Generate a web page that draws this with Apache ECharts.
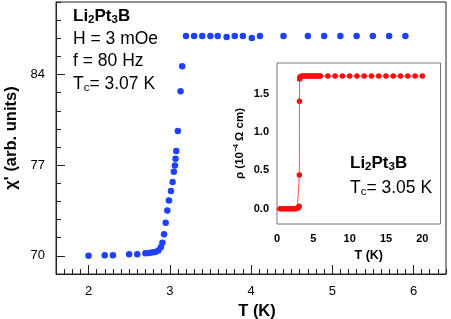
<!DOCTYPE html>
<html>
<head>
<meta charset="utf-8">
<script src="https://cdn.jsdelivr.net/npm/echarts@6/dist/echarts.min.js"></script>
<style>html,body{margin:0;padding:0;background:#fff}#c{width:451px;height:319px}</style>
</head>
<body>
<div id="c"></div>
<script>
// ---- Main panel: ac susceptibility chi' vs T ----
var chiT = [2.00, 2.20, 2.30, 2.50, 2.60, 2.70, 2.74, 2.78, 2.82, 2.86, 2.89, 2.91, 2.93, 2.95, 2.97, 2.99, 3.015, 3.035, 3.05, 3.064, 3.071, 3.08, 3.10, 3.133, 3.153, 3.20, 3.30, 3.40, 3.50, 3.59, 3.70, 3.80, 3.90, 4.01, 4.11, 4.40, 4.70, 4.90, 5.10, 5.30, 5.50, 5.70, 5.90];
var chiV = [70.00, 70.05, 70.05, 70.13, 70.13, 70.20, 70.23, 70.26, 70.30, 70.41, 70.67, 71.02, 71.67, 72.56, 73.50, 74.28, 75.00, 75.70, 76.50, 76.97, 77.50, 78.10, 79.64, 82.70, 84.64, 86.97, 86.97, 86.97, 86.97, 86.97, 86.90, 86.97, 86.97, 86.82, 86.97, 86.97, 86.97, 86.97, 86.97, 86.97, 86.97, 86.97, 86.97];
var mainXTicks = [2, 3, 4, 5, 6];
var mainYTicks = [70, 77, 84];

// ---- Inset: resistivity rho vs T ----
var rhoT = [0.4, 0.6, 0.8, 1.0, 1.2, 1.4, 1.6, 1.8, 2.0, 2.2, 2.4, 2.6, 2.8, 2.9, 3.0, 3.05, 3.08, 3.09, 3.12, 3.15, 3.2, 3.4, 3.6, 3.8, 4.0, 4.2, 4.4, 4.6, 4.8, 5.0, 5.2, 5.4, 5.6, 5.8, 6.0, 7, 8, 9, 10, 11, 12, 13, 14, 15, 16, 17, 18, 19, 20];
var rhoV = [0.00, 0.00, 0.00, 0.00, 0.00, 0.00, 0.00, 0.00, 0.00, 0.00, 0.00, 0.00, 0.01, 0.01, 0.02, 0.03, 0.44, 1.40, 1.69, 1.71, 1.72, 1.73, 1.73, 1.73, 1.73, 1.73, 1.73, 1.73, 1.73, 1.73, 1.73, 1.73, 1.73, 1.73, 1.73, 1.73, 1.73, 1.73, 1.73, 1.73, 1.73, 1.73, 1.73, 1.73, 1.73, 1.73, 1.73, 1.73, 1.73];
var insetXTicks = [0, 5, 10, 15, 20];
var insetYTicks = [0, 0.5, 1.0, 1.5];

function steps(a, b, s) { var r = []; for (var i = 0; a + i * s <= b + 1e-9; i++) r.push(+(a + i * s).toFixed(4)); return r; }
var mainXMinor = steps(1.6, 6.4, 0.1);
var mainYMinor = steps(68.6, 89.6, 1.4);
var insetXMinor = steps(0, 22.5, 2.5);
var insetYMinor = steps(0, 1.9, 0.25);

function zip(a, b) { return a.map(function (v, i) { return [v, b[i]]; }); }

var FONT = 'Liberation Sans, Arial, sans-serif';
var chart = echarts.init(document.getElementById('c'), null, { renderer: 'canvas' });

var subRich = {
  b: { fontFamily: FONT, fontSize: 17, fontWeight: 'bold', fill: '#000', color: '#000', lineHeight: 20 },
  bs: { fontFamily: FONT, fontSize: 11.5, fontWeight: 'bold', fill: '#000', color: '#000', lineHeight: 20, verticalAlign: 'bottom', padding: [7, 0, 0, 0] },
  n: { fontFamily: FONT, fontSize: 17.5, fill: '#000', color: '#000', lineHeight: 20 },
  ns: { fontFamily: FONT, fontSize: 11.5, fill: '#000', color: '#000', lineHeight: 20, verticalAlign: 'bottom', padding: [7, 0, 0, 0] }
};

function txt(x, y, t) {
  return { type: 'text', x: x, y: y, z: 100, style: { text: t, rich: subRich, verticalAlign: 'middle', align: 'left' } };
}

chart.setOption({
  animation: false,
  backgroundColor: '#fff',
  grid: [
    { left: 56, top: 2, width: 390, height: 272, show: true, borderColor: '#222', borderWidth: 1, outerBoundsMode: 'none', containLabel: false },
    { left: 277, top: 63, width: 163.5, height: 161, show: true, borderColor: '#777', borderWidth: 1, backgroundColor: '#fff', z: 5, outerBoundsMode: 'none', containLabel: false }
  ],
  xAxis: [
    { type: 'value', gridIndex: 0, min: 1.6, max: 6.4, position: 'bottom',
      name: 'T (K)', nameLocation: 'middle', nameGap: 20,
      nameTextStyle: { fontFamily: FONT, fontSize: 16.5, fontWeight: 'bold', color: '#000', padding: [0, 0, 0, 12] },
      axisLine: { show: true, lineStyle: { color: '#222', width: 1 } },
      axisTick: { show: true, inside: true, length: 9, customValues: mainXTicks, lineStyle: { color: '#222' } },
      axisLabel: { show: true, customValues: mainXTicks, margin: 11, fontFamily: FONT, fontSize: 13, color: '#000' },
      splitLine: { show: false } },
    { type: 'value', gridIndex: 0, min: 1.6, max: 6.4, position: 'bottom', offset: 0,
      axisLine: { show: false },
      axisTick: { show: true, inside: true, length: 5, customValues: mainXMinor, lineStyle: { color: '#222' } },
      axisLabel: { show: false }, splitLine: { show: false } },
    { type: 'value', gridIndex: 1, min: 0, max: 22.5, position: 'bottom',
      name: 'T (K)', nameLocation: 'middle', nameGap: 24,
      nameTextStyle: { fontFamily: FONT, fontSize: 12.5, fontWeight: 'bold', color: '#000', padding: [0, 0, 0, 20] },
      axisLine: { show: true, lineStyle: { color: '#777', width: 1 } },
      axisTick: { show: true, inside: true, length: 5, customValues: insetXTicks, lineStyle: { color: '#555' } },
      axisLabel: { show: true, customValues: insetXTicks, margin: 9, fontFamily: FONT, fontSize: 11, fontWeight: 'bold', color: '#000' },
      splitLine: { show: false } },
    { type: 'value', gridIndex: 1, min: 0, max: 22.5, position: 'bottom', offset: 0,
      axisLine: { show: false },
      axisTick: { show: true, inside: true, length: 3, customValues: insetXMinor, lineStyle: { color: '#555' } },
      axisLabel: { show: false }, splitLine: { show: false } }
  ],
  yAxis: [
    { type: 'value', gridIndex: 0, min: 68.6, max: 89.6, position: 'left',
      name: "χ' (arb. units)", nameLocation: 'middle', nameGap: 33,
      nameTextStyle: { fontFamily: FONT, fontSize: 16.5, fontWeight: 'bold', color: '#000' },
      axisLine: { show: true, lineStyle: { color: '#222', width: 1 } },
      axisTick: { show: true, inside: true, length: 9, customValues: mainYTicks, lineStyle: { color: '#222' } },
      axisLabel: { show: true, customValues: mainYTicks, margin: 11, fontFamily: FONT, fontSize: 13, color: '#000' },
      splitLine: { show: false } },
    { type: 'value', gridIndex: 0, min: 68.6, max: 89.6, position: 'left', offset: 0,
      axisLine: { show: false },
      axisTick: { show: true, inside: true, length: 5, customValues: mainYMinor, lineStyle: { color: '#222' } },
      axisLabel: { show: false }, splitLine: { show: false } },
    { type: 'value', gridIndex: 1, min: -0.2, max: 1.9, position: 'left',
      name: '{t|ρ (10}{s|−4}{t| Ω cm)}', nameLocation: 'middle', nameGap: 30,
      nameTextStyle: { fontFamily: FONT, fontSize: 11, fontWeight: 'bold', color: '#000',
        rich: { t: { fontFamily: FONT, fontSize: 11.5, fontWeight: 'bold', color: '#000', lineHeight: 14 },
                s: { fontFamily: FONT, fontSize: 7, fontWeight: 'bold', color: '#000', lineHeight: 14, verticalAlign: 'top' } } },
      axisLine: { show: true, lineStyle: { color: '#777', width: 1 } },
      axisTick: { show: true, inside: true, length: 5, customValues: insetYMinor, lineStyle: { color: '#555' } },
      axisLabel: { show: true, customValues: insetYTicks, margin: 8, fontFamily: FONT, fontSize: 11, fontWeight: 'bold', color: '#000',
        formatter: function (v) { return v.toFixed(1); } },
      splitLine: { show: false } }
  ],
  series: [
    { type: 'scatter', xAxisIndex: 0, yAxisIndex: 0, data: zip(chiT, chiV), symbol: 'circle', symbolSize: 6.5,
      itemStyle: { color: '#1f40ff', opacity: 1 }, z: 2 },
    { type: 'line', xAxisIndex: 2, yAxisIndex: 2, data: zip(rhoT, rhoV), symbol: 'circle', symbolSize: 5.5, showSymbol: true,
      itemStyle: { color: '#ff0d0d', opacity: 1 }, lineStyle: { color: '#ff5050', width: 1 }, z: 10 }
  ],
  graphic: [
    txt(73, 16, '{b|Li}{bs|2}{b|Pt}{bs|3}{b|B}'),
    txt(73, 39, '{n|H = 3 mOe}'),
    txt(73, 61, '{n|f = 80 Hz}'),
    txt(73, 84, '{n|T}{ns|c}{n|= 3.07 K}'),
    txt(350, 163, '{b|Li}{bs|2}{b|Pt}{bs|3}{b|B}'),
    txt(350, 188, '{n|T}{ns|c}{n|= 3.05 K}')
  ]
});
</script>
</body>
</html>
